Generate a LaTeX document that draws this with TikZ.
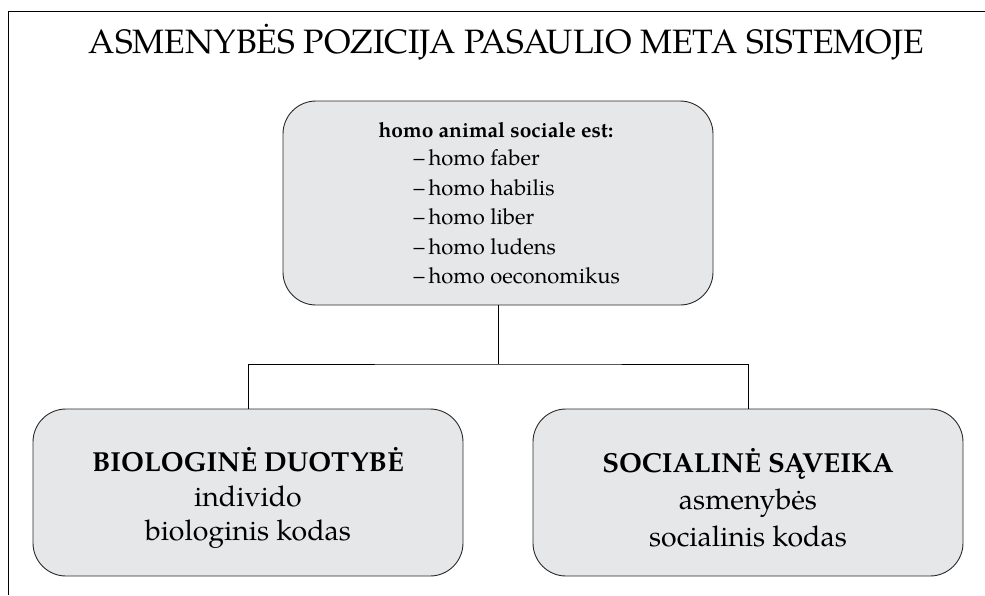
\documentclass[tikz,border=0pt]{standalone}
\usepackage{fontspec}
\setmainfont{TeX Gyre Pagella}
\definecolor{boxfill}{HTML}{E6E7E8}
\definecolor{boxline}{HTML}{2A2A2A}
\tikzset{
  roundbox/.style={draw=boxline, line width=0.9pt, fill=boxfill, rounded corners=33pt,
    minimum width=430pt, inner sep=0pt},
  conn/.style={draw=black, line width=1pt},
  frameline/.style={draw=black, line width=0.9pt},
  titletext/.style={anchor=base, font=\fontsize{33.8}{40}\selectfont},
  headtext/.style={anchor=base, font=\bfseries\fontsize{21}{25}\selectfont},
  itemtext/.style={anchor=base west, font=\fontsize{22}{26}\selectfont},
  bigbold/.style={anchor=base, font=\bfseries\fontsize{27.5}{32}\selectfont},
  bigtext/.style={anchor=base, font=\fontsize{28.5}{34}\selectfont}
}
\begin{document}
\begin{tikzpicture}[x=1pt,y=-1pt]
\useasboundingbox (0,0) rectangle (985,595);
\draw[frameline] (8.5,595) -- (8.5,11) -- (985,11);
\node[titletext] (title) at (506.5,53) {ASMENYBĖS POZICIJA PASAULIO META SISTEMOJE};
% top box
\node[roundbox, minimum height=204pt] (top) at (498,203) {};
\node[headtext] (head) at (496,137) {homo animal sociale est:};
\node[itemtext] (i1) at (410,165) {–\kern4pt homo faber};
\node[itemtext] (i2) at (410,195) {–\kern4pt homo habilis};
\node[itemtext] (i3) at (410,224.5) {–\kern4pt homo liber};
\node[itemtext] (i4) at (410,254) {–\kern4pt homo ludens};
\node[itemtext] (i5) at (410,283) {–\kern4pt homo oeconomikus};
% bottom boxes
\node[roundbox, minimum height=167pt] (bl) at (248,492.5) {};
\node[roundbox, minimum height=167pt] (br) at (748,492.5) {};
\node[bigbold] (bl1) at (248,471) {BIOLOGINĖ DUOTYBĖ};
\node[bigtext] (bl2) at (248,506) {individo};
\node[bigtext] (bl3) at (248,540) {biologinis kodas};
\node[bigbold] (br1) at (748,472) {SOCIALINĖ SĄVEIKA};
\node[bigtext] (br2) at (748,509) {asmenybės};
\node[bigtext] (br3) at (748,546) {socialinis kodas};
% connectors
\coordinate (j) at (498,364);
\draw[conn] (top.south) -- (j);
\draw[conn] (bl.north) |- (j) -| (br.north);
\end{tikzpicture}
\end{document}
